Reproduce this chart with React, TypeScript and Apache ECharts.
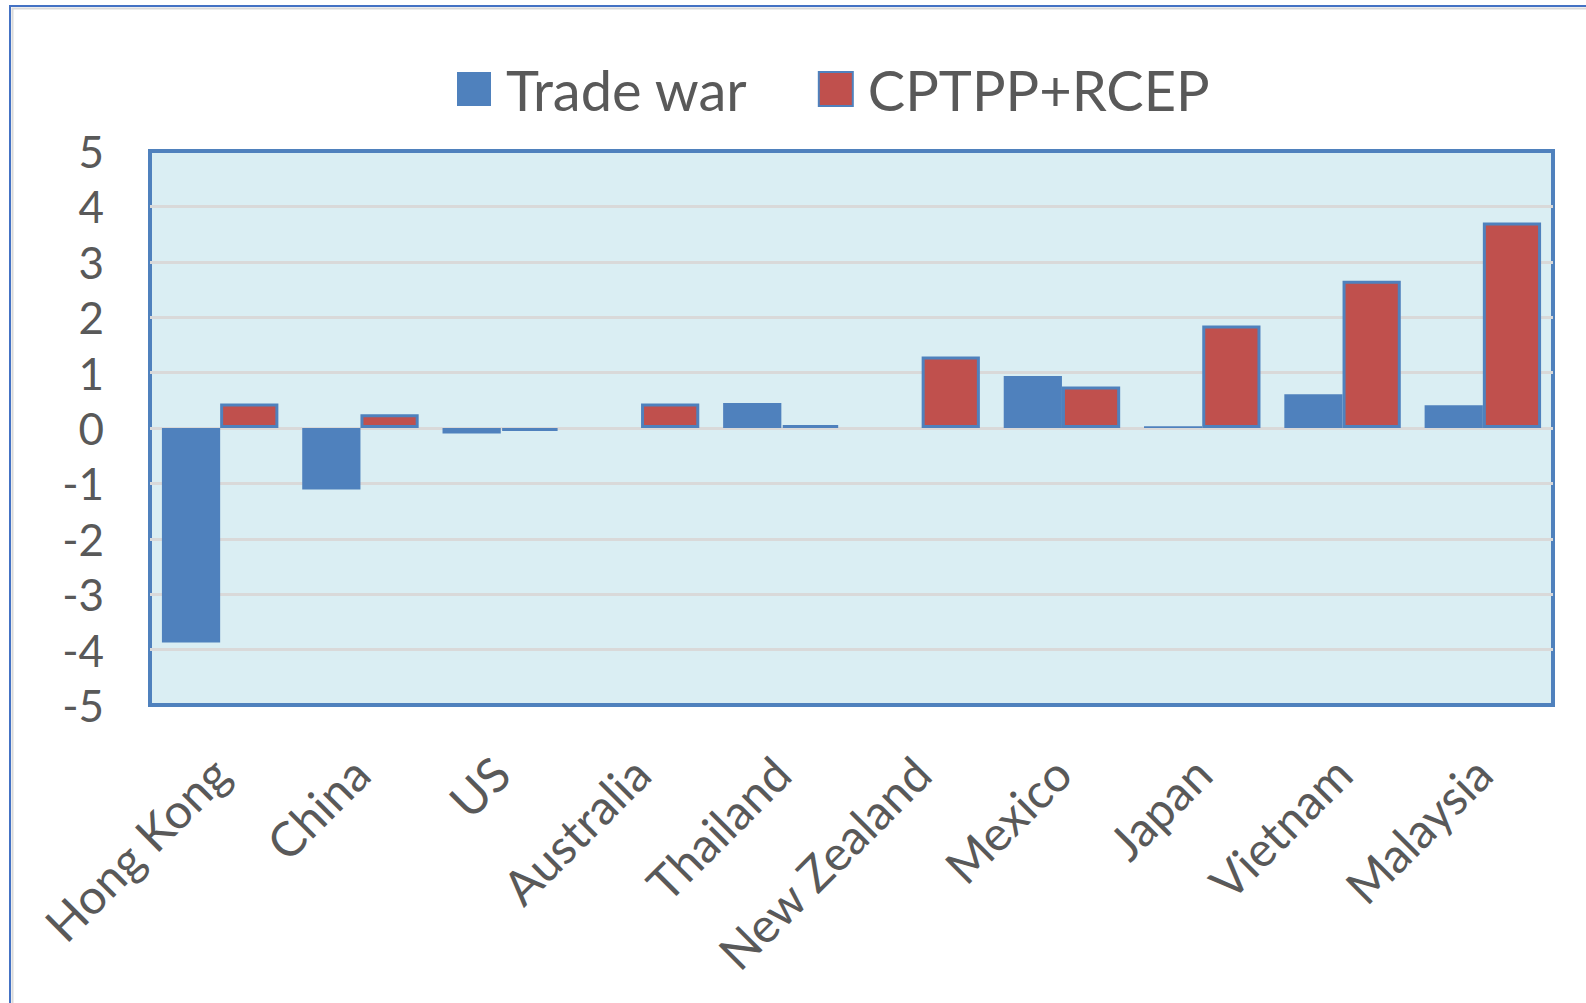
import React, { useEffect, useRef } from "react";
import * as echarts from "echarts";

const categories = ["Hong Kong", "China", "US", "Australia", "Thailand", "New Zealand", "Mexico", "Japan", "Vietnam", "Malaysia"];
const tradeWar = [-3.87, -1.11, -0.1, 0, 0.45, 0, 0.94, 0.03, 0.61, 0.41];
const cptppRcep = [0.44, 0.25, -0.05, 0.44, 0.05, 1.29, 0.75, 1.85, 2.66, 3.71];
const seriesNames = ["Trade war", "CPTPP+RCEP"];

const FONT = "Lato, 'Open Sans', sans-serif";
const TEXT = "#595959";
const BLUE = "#4F81BD";
const RED = "#C0504D";

export default function App() {
  const ref = useRef<HTMLDivElement>(null);
  useEffect(() => {
    if (!ref.current) return;
    const chart = echarts.init(ref.current, null, { renderer: "svg" });
    chart.setOption({
      animation: false,
      backgroundColor: "#ffffff",
      textStyle: { fontFamily: FONT },
      graphic: [
        {
          type: "rect",
          shape: { x: 10, y: 6, width: 1700, height: 1200 },
          style: { fill: "none", stroke: "#4472C4", lineWidth: 2 },
          silent: true,
        },
        {
          type: "rect",
          shape: { x: 12.5, y: 8.5, width: 1700, height: 1200 },
          style: { fill: "none", stroke: "#D9D9D9", lineWidth: 2 },
          silent: true,
        },
      ],
      legend: {
        data: seriesNames,
        left: 452,
        top: 56,
        itemWidth: 34,
        itemHeight: 34,
        itemGap: 70,
        icon: "rect",
        textStyle: { color: TEXT, fontSize: 56, fontFamily: FONT, padding: [0, 0, 0, 10] },
      },
      grid: {
        left: 150,
        top: 151,
        width: 1403,
        height: 554,
        show: true,
        backgroundColor: "#DAEEF3",
        borderColor: BLUE,
        borderWidth: 4,
        containLabel: false,
      },
      xAxis: {
        type: "category",
        data: categories,
        axisLine: { show: false },
        axisTick: { show: false },
        axisLabel: {
          interval: 0,
          rotate: 45,
          margin: 60,
          color: TEXT,
          fontSize: 48,
          fontFamily: FONT,
        },
      },
      yAxis: {
        type: "value",
        min: -5,
        max: 5,
        interval: 1,
        axisLine: { show: false },
        axisTick: { show: false },
        splitLine: {
          showMinLine: false,
          showMaxLine: false,
          lineStyle: { color: "#D9D9D9", width: 3 },
        },
        axisLabel: { color: TEXT, fontSize: 44, fontFamily: FONT, margin: 46 },
      },
      series: [
        {
          name: seriesNames[0],
          type: "bar",
          data: tradeWar,
          barGap: "0%",
          barCategoryGap: "17%",
          itemStyle: { color: BLUE },
        },
        {
          name: seriesNames[1],
          type: "bar",
          data: cptppRcep,
          barGap: "0%",
          barCategoryGap: "17%",
          itemStyle: { color: RED, borderColor: BLUE, borderWidth: 3 },
        },
      ],
    });
    return () => chart.dispose();
  }, []);
  return (
    <div
      ref={ref}
      style={{ position: "absolute", left: 0, top: 0, width: 1586, height: 1003 }}
    />
  );
}
